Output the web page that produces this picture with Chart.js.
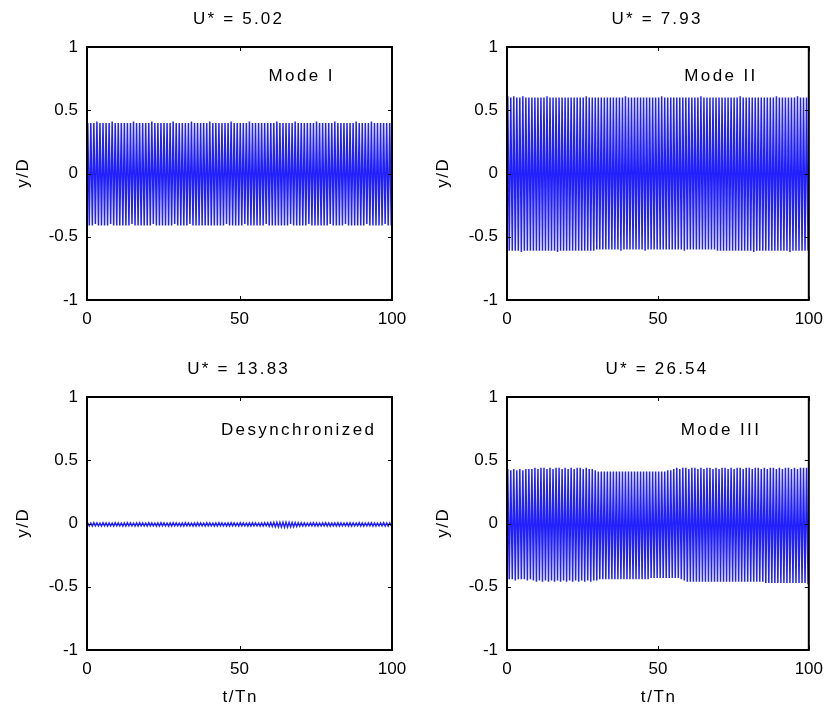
<!DOCTYPE html>
<html>
<head>
<meta charset="utf-8">
<script src="https://cdn.jsdelivr.net/npm/chart.js@4.4.1/dist/chart.umd.min.js"></script>
<style>
  html, body { margin: 0; padding: 0; background: #fff; }
  #wrap { position: relative; width: 832px; height: 712px; }
  #wrap canvas { position: absolute; left: 0; top: 0; }
</style>
</head>
<body>
<div id="wrap">
  <canvas id="p0" width="832" height="712"></canvas>
  <canvas id="p1" width="832" height="712"></canvas>
  <canvas id="p2" width="832" height="712"></canvas>
  <canvas id="p3" width="832" height="712"></canvas>
</div>
<script>
// Axis ticks shared by all four panels
const xTicks = [0, 50, 100];
const yTicks = [-1, -0.5, 0, 0.5, 1];
const yTickLabels = ['-1', '-0.5', '0', '0.5', '1'];

// One oscillation cycle per t/Tn; each cycle contributes a crest and a trough
const cyclePeriod = 1;

// Panel headings and regime labels
const panelTitles = ['U* = 5.02', 'U* = 7.93', 'U* = 13.83', 'U* = 26.54'];
const regimeNames = ['Mode I', 'Mode II', 'Desynchronized', 'Mode III'];

// Crest / trough amplitudes (y/D) of each cycle, U* = 5.02
const modeIUpper = [
  0.40,0.40,0.40,0.41,0.40,0.40,0.40,0.40,0.41,0.40,
  0.40,0.40,0.40,0.40,0.40,0.41,0.40,0.40,0.40,0.40,
  0.40,0.41,0.40,0.40,0.40,0.40,0.40,0.40,0.41,0.40,
  0.40,0.40,0.40,0.40,0.41,0.40,0.40,0.40,0.40,0.40,
  0.41,0.40,0.40,0.40,0.40,0.40,0.40,0.41,0.40,0.40,
  0.40,0.40,0.40,0.41,0.40,0.40,0.40,0.40,0.40,0.40,
  0.40,0.40,0.41,0.40,0.40,0.40,0.40,0.40,0.41,0.40,
  0.40,0.40,0.40,0.40,0.40,0.41,0.40,0.40,0.40,0.40,
  0.40,0.41,0.40,0.40,0.40,0.40,0.40,0.40,0.41,0.40,
  0.40,0.40,0.40,0.41,0.40,0.40,0.40,0.40,0.40,0.40
];
const modeILower = [
  -0.41,-0.41,-0.40,-0.41,-0.41,-0.41,-0.41,-0.40,-0.41,-0.41,
  -0.41,-0.41,-0.41,-0.41,-0.40,-0.41,-0.41,-0.41,-0.41,-0.41,
  -0.41,-0.40,-0.41,-0.41,-0.41,-0.41,-0.41,-0.41,-0.40,-0.41,
  -0.41,-0.41,-0.41,-0.40,-0.41,-0.41,-0.41,-0.41,-0.41,-0.41,
  -0.41,-0.41,-0.41,-0.41,-0.41,-0.40,-0.41,-0.41,-0.41,-0.41,
  -0.41,-0.40,-0.41,-0.41,-0.41,-0.41,-0.41,-0.41,-0.40,-0.41,
  -0.41,-0.41,-0.41,-0.41,-0.41,-0.41,-0.40,-0.41,-0.41,-0.41,
  -0.41,-0.41,-0.40,-0.41,-0.41,-0.41,-0.41,-0.41,-0.41,-0.40,
  -0.41,-0.41,-0.41,-0.41,-0.40,-0.41,-0.41,-0.41,-0.41,-0.41,
  -0.41,-0.40,-0.41,-0.41,-0.41,-0.41,-0.41,-0.40,-0.41,-0.41
];

// U* = 7.93
const modeIIUpper = [
  0.61,0.60,0.61,0.60,0.60,0.61,0.60,0.60,0.60,0.60,
  0.60,0.60,0.60,0.61,0.60,0.60,0.60,0.60,0.60,0.60,
  0.60,0.60,0.60,0.60,0.60,0.60,0.61,0.60,0.60,0.60,
  0.60,0.60,0.60,0.60,0.60,0.60,0.60,0.60,0.60,0.61,
  0.60,0.60,0.60,0.60,0.60,0.60,0.60,0.60,0.60,0.60,
  0.60,0.61,0.60,0.60,0.60,0.60,0.60,0.60,0.60,0.60,
  0.60,0.60,0.60,0.60,0.61,0.60,0.60,0.60,0.60,0.60,
  0.60,0.60,0.60,0.60,0.60,0.60,0.60,0.61,0.60,0.60,
  0.60,0.60,0.60,0.60,0.60,0.60,0.60,0.60,0.60,0.61,
  0.60,0.60,0.60,0.60,0.60,0.60,0.61,0.60,0.60,0.60
];
const modeIILower = [
  -0.61,-0.61,-0.61,-0.61,-0.62,-0.61,-0.61,-0.61,-0.61,-0.61,
  -0.61,-0.61,-0.61,-0.61,-0.61,-0.61,-0.62,-0.61,-0.61,-0.61,
  -0.61,-0.61,-0.61,-0.61,-0.61,-0.61,-0.61,-0.61,-0.61,-0.60,
  -0.60,-0.60,-0.60,-0.60,-0.60,-0.60,-0.60,-0.61,-0.60,-0.60,
  -0.60,-0.60,-0.60,-0.60,-0.60,-0.61,-0.60,-0.60,-0.60,-0.60,
  -0.60,-0.60,-0.60,-0.60,-0.60,-0.60,-0.60,-0.60,-0.61,-0.60,
  -0.60,-0.60,-0.60,-0.60,-0.60,-0.60,-0.60,-0.60,-0.60,-0.61,
  -0.61,-0.61,-0.61,-0.61,-0.61,-0.61,-0.61,-0.61,-0.61,-0.61,
  -0.61,-0.62,-0.61,-0.61,-0.61,-0.61,-0.61,-0.61,-0.61,-0.61,
  -0.61,-0.61,-0.61,-0.62,-0.61,-0.61,-0.61,-0.61,-0.61,-0.61
];

// U* = 13.83
const desyncUpper = [
  0.005,0.004,0.006,0.005,0.004,0.006,0.005,0.005,0.004,0.006,
  0.005,0.004,0.005,0.006,0.005,0.004,0.005,0.006,0.005,0.004,
  0.006,0.005,0.004,0.005,0.006,0.005,0.004,0.005,0.006,0.005,
  0.004,0.005,0.006,0.005,0.004,0.005,0.006,0.005,0.004,0.006,
  0.005,0.004,0.005,0.006,0.005,0.004,0.005,0.006,0.005,0.004,
  0.006,0.005,0.004,0.005,0.006,0.005,0.004,0.005,0.006,0.007,
  0.008,0.009,0.010,0.010,0.011,0.010,0.010,0.009,0.008,0.007,
  0.006,0.005,0.004,0.005,0.006,0.005,0.004,0.005,0.006,0.005,
  0.004,0.005,0.006,0.005,0.004,0.005,0.006,0.005,0.004,0.006,
  0.005,0.004,0.005,0.006,0.005,0.004,0.005,0.006,0.005,0.005
];
const desyncLower = [
  -0.020,-0.021,-0.019,-0.020,-0.021,-0.019,-0.020,-0.020,-0.021,-0.019,
  -0.020,-0.021,-0.020,-0.019,-0.020,-0.021,-0.020,-0.019,-0.020,-0.021,
  -0.019,-0.020,-0.021,-0.020,-0.019,-0.020,-0.021,-0.020,-0.019,-0.020,
  -0.021,-0.020,-0.019,-0.020,-0.021,-0.020,-0.019,-0.020,-0.021,-0.019,
  -0.020,-0.021,-0.020,-0.019,-0.020,-0.021,-0.020,-0.019,-0.020,-0.021,
  -0.019,-0.020,-0.021,-0.020,-0.019,-0.020,-0.021,-0.020,-0.019,-0.022,
  -0.024,-0.026,-0.028,-0.029,-0.030,-0.029,-0.028,-0.026,-0.024,-0.022,
  -0.020,-0.021,-0.020,-0.019,-0.020,-0.021,-0.020,-0.019,-0.020,-0.021,
  -0.019,-0.020,-0.021,-0.020,-0.019,-0.020,-0.021,-0.020,-0.019,-0.020,
  -0.021,-0.020,-0.019,-0.020,-0.021,-0.020,-0.019,-0.020,-0.021,-0.020
];

// U* = 26.54
const modeIIIUpper = [
  0.43,0.42,0.43,0.42,0.43,0.42,0.43,0.43,0.43,0.44,
  0.43,0.44,0.44,0.43,0.44,0.43,0.44,0.44,0.43,0.44,
  0.43,0.44,0.43,0.44,0.44,0.43,0.44,0.43,0.43,0.42,
  0.41,0.41,0.41,0.41,0.41,0.41,0.41,0.41,0.41,0.41,
  0.41,0.41,0.41,0.41,0.41,0.41,0.41,0.41,0.41,0.41,
  0.41,0.41,0.41,0.42,0.42,0.43,0.44,0.43,0.44,0.44,
  0.43,0.44,0.44,0.43,0.44,0.43,0.44,0.44,0.43,0.44,
  0.43,0.44,0.44,0.43,0.44,0.43,0.44,0.44,0.43,0.44,
  0.44,0.43,0.44,0.44,0.43,0.44,0.43,0.44,0.44,0.43,
  0.44,0.43,0.44,0.44,0.43,0.44,0.43,0.44,0.44,0.44
];
const modeIIILower = [
  -0.44,-0.44,-0.45,-0.44,-0.44,-0.44,-0.45,-0.44,-0.45,-0.46,
  -0.45,-0.46,-0.45,-0.46,-0.45,-0.46,-0.45,-0.46,-0.45,-0.46,
  -0.45,-0.46,-0.45,-0.46,-0.45,-0.46,-0.45,-0.46,-0.45,-0.45,
  -0.44,-0.44,-0.44,-0.44,-0.44,-0.44,-0.44,-0.44,-0.44,-0.44,
  -0.44,-0.44,-0.44,-0.44,-0.44,-0.44,-0.44,-0.43,-0.43,-0.43,
  -0.43,-0.43,-0.43,-0.43,-0.43,-0.43,-0.43,-0.44,-0.45,-0.46,
  -0.46,-0.46,-0.46,-0.46,-0.46,-0.46,-0.46,-0.46,-0.46,-0.46,
  -0.46,-0.46,-0.46,-0.46,-0.46,-0.46,-0.46,-0.46,-0.46,-0.46,
  -0.46,-0.46,-0.46,-0.46,-0.46,-0.47,-0.47,-0.47,-0.47,-0.47,
  -0.47,-0.47,-0.47,-0.47,-0.47,-0.47,-0.47,-0.47,-0.47,-0.48
];

// Where each regime name sits, in data units (t/Tn, y/D)
const regimeLabelAt = [[70, 0.77], [70.5, 0.77], [69, 0.74], [70.5, 0.74]];

const FONT_FAMILY = "'Liberation Sans', Arial, Helvetica, sans-serif";
const FONT_SIZE = 17;
const LINE_BLUE = 'rgb(32,32,255)';

// Plot boxes (left, top, right, bottom) in page pixels
const boxes = [
  [87, 47, 392, 300],
  [507, 47, 813, 300],
  [87, 397, 392, 650],
  [507, 397, 813, 650]
];
const Y_AXIS_W = 60;
const X_AXIS_H = 34;

// Turn crest/trough lists into (t, y) points: crest at a quarter period, trough at three quarters
function buildSeries(upper, lower) {
  const pts = [];
  for (let i = 0; i < upper.length; i++) {
    const t0 = i * cyclePeriod;
    pts.push({ x: t0 + cyclePeriod / 4, y: upper[i] });
    pts.push({ x: t0 + 3 * cyclePeriod / 4, y: lower[i] });
  }
  return pts;
}

// Centered text with extra tracking (the trailing gap is compensated)
function spacedText(ctx, text, x, y, spacing) {
  ctx.letterSpacing = spacing + 'px';
  ctx.fillText(text, x + spacing / 2, y);
  ctx.letterSpacing = '0px';
}

// Box, inward tick marks, heading, regime name and axis titles
const framePlugin = {
  id: 'frame',
  afterDatasetsDraw(chart, args, opts) {
    const { ctx, chartArea: a, scales: { x, y } } = chart;
    const tickLen = 4;
    ctx.save();
    ctx.strokeStyle = '#000';
    ctx.lineWidth = 1;
    ctx.beginPath();
    yTicks.forEach(v => {
      const py = Math.round(y.getPixelForValue(v)) + 0.5;
      ctx.moveTo(a.left, py); ctx.lineTo(a.left + tickLen, py);
      ctx.moveTo(a.right, py); ctx.lineTo(a.right - tickLen, py);
    });
    xTicks.forEach(v => {
      const px = Math.round(x.getPixelForValue(v)) + 0.5;
      ctx.moveTo(px, a.top); ctx.lineTo(px, a.top + tickLen);
      ctx.moveTo(px, a.bottom); ctx.lineTo(px, a.bottom - tickLen);
    });
    ctx.stroke();
    ctx.lineWidth = 2;
    ctx.strokeRect(a.left, a.top, a.right - a.left, a.bottom - a.top);

    ctx.fillStyle = '#000';
    ctx.font = FONT_SIZE + 'px ' + FONT_FAMILY;
    ctx.textAlign = 'center';
    ctx.textBaseline = 'middle';
    const cx = (a.left + a.right) / 2;
    spacedText(ctx, opts.heading, cx - 2, a.top - 28, 2.2);
    spacedText(ctx, opts.regime, x.getPixelForValue(opts.regimeAt[0]), y.getPixelForValue(opts.regimeAt[1]), 2.4);
    if (opts.xTitle) spacedText(ctx, opts.xTitle, cx, a.bottom + 47, 1.6);
    ctx.translate(a.left - 64, (a.top + a.bottom) / 2);
    ctx.rotate(-Math.PI / 2);
    spacedText(ctx, opts.yTitle, 0, 0, 1.6);
    ctx.restore();
  }
};

const panels = [
  [modeIUpper, modeILower],
  [modeIIUpper, modeIILower],
  [desyncUpper, desyncLower],
  [modeIIIUpper, modeIIILower]
];

panels.forEach((p, k) => {
  const [L, T, R, B] = boxes[k];
  new Chart(document.getElementById('p' + k), {
    type: 'line',
    data: {
      datasets: [{
        data: buildSeries(p[0], p[1]),
        borderColor: LINE_BLUE,
        borderWidth: k === 2 ? 1.4 : 1.5,
        pointRadius: 0,
        tension: 0,
        fill: false
      }]
    },
    options: {
      responsive: false,
      animation: false,
      events: [],
      parsing: false,
      layout: { padding: { left: L - Y_AXIS_W, right: 832 - R, top: T, bottom: 712 - B - X_AXIS_H } },
      plugins: {
        legend: { display: false },
        tooltip: { enabled: false },
        title: { display: false },
        frame: {
          heading: panelTitles[k],
          regime: regimeNames[k],
          regimeAt: regimeLabelAt[k],
          yTitle: 'y/D',
          xTitle: k >= 2 ? 't/Tn' : ''
        }
      },
      scales: {
        x: {
          type: 'linear',
          min: 0, max: 100,
          afterBuildTicks: s => { s.ticks = xTicks.map(v => ({ value: v })); },
          afterFit: s => { s.height = X_AXIS_H; },
          grid: { display: false, drawTicks: false },
          border: { display: false },
          ticks: { padding: 9, color: '#000', maxRotation: 0, autoSkip: false,
                   callback: v => String(v),
                   font: { family: FONT_FAMILY, size: FONT_SIZE } }
        },
        y: {
          type: 'linear',
          min: -1, max: 1,
          afterBuildTicks: s => { s.ticks = yTicks.map(v => ({ value: v })); },
          afterFit: s => { s.width = Y_AXIS_W; },
          grid: { display: false, drawTicks: false },
          border: { display: false },
          ticks: { padding: 9, color: '#000', autoSkip: false,
                   callback: (v, i) => yTickLabels[i],
                   font: { family: FONT_FAMILY, size: FONT_SIZE } }
        }
      }
    },
    plugins: [framePlugin]
  });
});
</script>
</body>
</html>
